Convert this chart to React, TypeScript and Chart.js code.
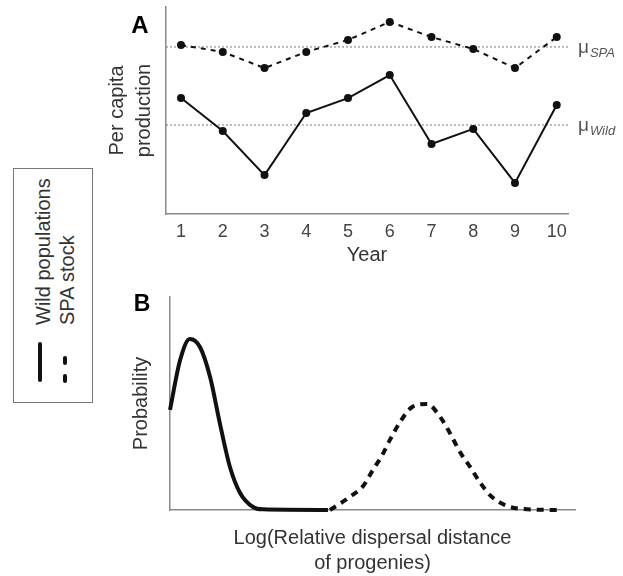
import React, { useEffect, useRef } from 'react';
import { Chart, registerables } from 'chart.js';

Chart.register(...registerables);

const FONT = "'Liberation Sans', Arial, Helvetica, sans-serif";

// Panel A: per capita production by year
const years = [1, 2, 3, 4, 5, 6, 7, 8, 9, 10];
const spaProduction = [81.6, 78.3, 70.5, 78.3, 84.1, 92.8, 85.5, 79.7, 70.5, 85.5];
const wildProduction = [56, 40.1, 18.8, 48.8, 56, 67.1, 33.8, 41.1, 15, 52.7];
const muSpa = 80.7;
const muWild = 43;
const yearMin = 0.64;
const yearMax = 10.27;

// Panel B: dispersal distance distributions
const wildDispX = [0, 2.5, 4.9, 7.4, 9.9, 12.3, 14.8, 17.3, 20.5, 23, 39];
const wildDispY = [47, 70.4, 80.3, 76.5, 62.4, 40.8, 20.2, 8, 1.4, 0.3, 0];
const spaDispX = [39.5, 44.4, 47.7, 50.1, 52.3, 54.3, 56.8, 59.8, 63.5, 66.7, 69.1, 71.6, 74.1, 76.5, 79, 82.7, 86.9, 95.8];
const spaDispY = [0, 6.1, 11.3, 18.8, 25.4, 32.9, 41.3, 48.4, 49.8, 43.7, 36.2, 27.2, 20.2, 13.1, 7, 2.3, 0.5, 0];

const INK = '#111';
const AXIS = '#8a8a8a';
const TEXT = '#333';

const pts = (xs: number[], ys: number[]) => xs.map((x, i) => ({ x, y: ys[i] }));

export default function App() {
  const refA = useRef<HTMLCanvasElement>(null);
  const refB = useRef<HTMLCanvasElement>(null);

  useEffect(() => {
    Chart.defaults.font.family = FONT;

    const labelsA = {
      id: 'labelsA',
      afterDraw(chart: any) {
        const { ctx, chartArea } = chart;
        const ys = chart.scales.y;
        ctx.save();
        ctx.fillStyle = '#000';
        ctx.font = `bold 24px ${FONT}`;
        ctx.textAlign = 'center';
        ctx.textBaseline = 'middle';
        ctx.fillText('A', 140, 26);
        const drawMu = (sub: string, v: number) => {
          const py = ys.getPixelForValue(v);
          const x0 = chartArea.right + 10;
          ctx.fillStyle = '#555';
          ctx.textAlign = 'left';
          ctx.textBaseline = 'alphabetic';
          ctx.font = `19px ${FONT}`;
          ctx.fillText('μ', x0, py + 6);
          const w = ctx.measureText('μ').width;
          ctx.font = `italic 13px ${FONT}`;
          ctx.fillText(sub, x0 + w + 1, py + 10);
        };
        drawMu('SPA', muSpa);
        drawMu('Wild', muWild);
        ctx.restore();
      },
    };

    const labelsB = {
      id: 'labelsB',
      afterDraw(chart: any) {
        const { ctx } = chart;
        ctx.save();
        ctx.fillStyle = '#000';
        ctx.font = `bold 23px ${FONT}`;
        ctx.textAlign = 'center';
        ctx.textBaseline = 'middle';
        ctx.fillText('B', 142, 15);
        ctx.restore();
      },
    };

    const chartA = new Chart(refA.current as HTMLCanvasElement, {
      type: 'line',
      data: {
        datasets: [
          {
            label: 'SPA stock',
            data: pts(years, spaProduction),
            borderColor: INK,
            borderWidth: 2,
            borderDash: [5, 5],
            pointRadius: 4,
            pointBackgroundColor: INK,
            pointBorderColor: INK,
            pointBorderWidth: 0,
            tension: 0,
          },
          {
            label: 'Wild populations',
            data: pts(years, wildProduction),
            borderColor: INK,
            borderWidth: 2,
            pointRadius: 4,
            pointBackgroundColor: INK,
            pointBorderColor: INK,
            pointBorderWidth: 0,
            tension: 0,
          },
          {
            label: 'muSPA',
            data: [{ x: yearMin, y: muSpa }, { x: yearMax, y: muSpa }],
            borderColor: '#777',
            borderWidth: 1,
            borderDash: [2, 2],
            pointRadius: 0,
          },
          {
            label: 'muWild',
            data: [{ x: yearMin, y: muWild }, { x: yearMax, y: muWild }],
            borderColor: '#777',
            borderWidth: 1,
            borderDash: [2, 2],
            pointRadius: 0,
          },
        ],
      },
      options: {
        animation: false,
        responsive: false,
        layout: { padding: { left: 104, top: 7, right: 55, bottom: 0 } },
        plugins: { legend: { display: false }, tooltip: { enabled: false } },
        scales: {
          x: {
            type: 'linear',
            min: yearMin,
            max: yearMax,
            grid: { display: false, drawTicks: false },
            border: { display: true, color: AXIS, width: 1.5 },
            ticks: { font: { size: 18, family: FONT }, color: '#444', padding: 7 },
            afterBuildTicks: (s: any) => {
              s.ticks = years.map((v) => ({ value: v }));
            },
            afterFit: (s: any) => {
              s.height = 76;
            },
            title: {
              display: true,
              text: 'Year',
              color: TEXT,
              font: { size: 20, family: FONT },
              padding: { top: 0, bottom: 23 },
            },
          },
          y: {
            type: 'linear',
            min: 0,
            max: 100,
            grid: { display: false, drawTicks: false },
            border: { display: true, color: AXIS, width: 1.5 },
            ticks: { display: false },
            afterFit: (s: any) => {
              s.width = 62;
            },
            title: {
              display: true,
              text: ['Per capita', 'production'],
              color: TEXT,
              font: { size: 20, family: FONT, lineHeight: 1.35 },
              padding: { top: 0, bottom: 0 },
            },
          },
        },
      },
      plugins: [labelsA],
    } as any);

    const chartB = new Chart(refB.current as HTMLCanvasElement, {
      type: 'line',
      data: {
        datasets: [
          {
            label: 'Wild populations',
            data: pts(wildDispX, wildDispY),
            borderColor: INK,
            borderWidth: 4,
            pointRadius: 0,
            cubicInterpolationMode: 'monotone',
            clip: 10,
          },
          {
            label: 'SPA stock',
            data: pts(spaDispX, spaDispY),
            borderColor: INK,
            borderWidth: 4,
            borderDash: [7, 6],
            pointRadius: 0,
            cubicInterpolationMode: 'monotone',
            clip: 10,
          },
        ],
      },
      options: {
        animation: false,
        responsive: false,
        layout: { padding: { left: 129, top: 7, right: 48, bottom: 0 } },
        plugins: { legend: { display: false }, tooltip: { enabled: false } },
        scales: {
          x: {
            type: 'linear',
            min: 0,
            max: 100,
            grid: { display: false, drawTicks: false },
            border: { display: true, color: AXIS, width: 1.5 },
            ticks: { display: false },
            afterFit: (s: any) => {
              s.height = 66;
            },
            title: {
              display: true,
              text: ['Log(Relative dispersal distance', 'of progenies)'],
              color: TEXT,
              font: { size: 20, family: FONT, lineHeight: 1.25 },
              padding: { top: 0, bottom: 0.5 },
            },
          },
          y: {
            type: 'linear',
            min: 0,
            max: 100,
            grid: { display: false, drawTicks: false },
            border: { display: true, color: AXIS, width: 1.5 },
            ticks: { display: false },
            afterFit: (s: any) => {
              s.width = 41;
            },
            title: {
              display: true,
              text: 'Probability',
              color: TEXT,
              font: { size: 20, family: FONT, lineHeight: 1.2 },
              padding: { top: 0, bottom: 0 },
            },
          },
        },
      },
      plugins: [labelsB],
    } as any);

    return () => {
      chartA.destroy();
      chartB.destroy();
    };
  }, []);

  const rotText = (text: string, cx: number, by: number) => (
    <div
      style={{
        position: 'absolute',
        left: cx,
        top: by,
        whiteSpace: 'nowrap',
        font: `20px ${FONT}`,
        lineHeight: '22px',
        color: TEXT,
        transformOrigin: '0 0',
        transform: 'rotate(-90deg) translateY(-50%)',
      }}
    >
      {text}
    </div>
  );

  return (
    <div style={{ position: 'absolute', left: 0, top: 0, width: 623, height: 576, background: '#fff', overflow: 'hidden' }}>
      <canvas ref={refA} width={623} height={290} style={{ position: 'absolute', left: 0, top: 0 }} />
      <canvas ref={refB} width={623} height={286} style={{ position: 'absolute', left: 0, top: 290 }} />
      <div
        style={{
          position: 'absolute',
          left: 13,
          top: 168,
          width: 78,
          height: 233,
          border: '1px solid #777',
          background: '#fff',
        }}
      >
        {rotText('Wild populations', 43 - 14, 325 - 169)}
        {rotText('SPA stock', 67 - 14, 325 - 169)}
        <div style={{ position: 'absolute', left: 38 - 14, top: 342 - 169, width: 4, height: 40, background: INK, borderRadius: 2 }} />
        <div style={{ position: 'absolute', left: 63 - 14, top: 356 - 169, width: 4, height: 9, background: INK, borderRadius: 2 }} />
        <div style={{ position: 'absolute', left: 63 - 14, top: 374 - 169, width: 4, height: 9, background: INK, borderRadius: 2 }} />
      </div>
    </div>
  );
}
